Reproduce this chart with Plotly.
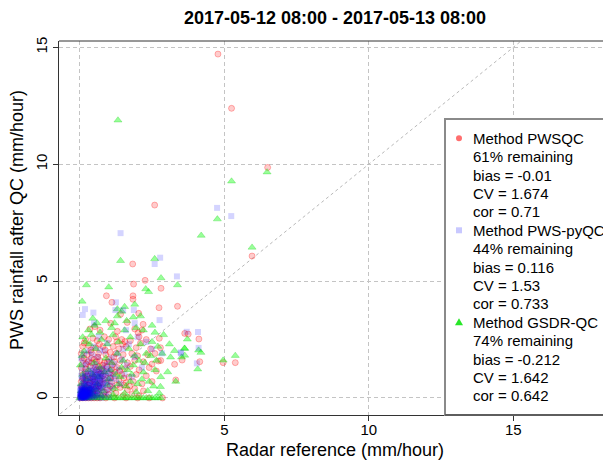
import plotly.graph_objects as go

title_text = "2017-05-12 08:00 - 2017-05-13 08:00"
x_title = "Radar reference (mm/hour)"
y_title = "PWS rainfall after QC (mm/hour)"
tick_vals = [0, 5, 10, 15]
tick_text = ["0", "5", "10", "15"]

# Method PWSQC (red circles): (radar, pws) pairs
pwsqc_xy = [
    (4.78, 14.71), (5.25, 12.39), (6.50, 9.86), (5.96, 6.07), (2.59, 8.25), (1.83, 5.73),
    (2.26, 5.03), (2.81, 4.69), (1.86, 4.87), (0.92, 4.37), (1.84, 4.37), (1.84, 4.22),
    (1.11, 4.09), (2.74, 3.86), (3.38, 3.92), (1.41, 3.58), (1.64, 3.23), (1.07, 3.19),
    (2.04, 3.62), (2.19, 3.15), (0.52, 3.05), (3.63, 2.76), (3.75, 2.73), (4.12, 2.52),
    (1.24, 2.62), (0.85, 2.62), (2.05, 2.62), (2.02, 2.79), (1.56, 2.41), (2.79, 2.15),
    (2.75, 2.55), (4.15, 1.55), (3.28, 1.44), (3.54, 1.62), (4.96, 1.51), (5.38, 1.51),
    (2.80, 1.60), (2.72, 1.58), (3.32, 0.77), (2.86, 0.00),
    (0.35, 2.95), (0.70, 2.90), (1.30, 2.85), (1.90, 2.95), (2.15, 2.90),
    (0.20, 2.50), (0.45, 2.55), (0.60, 2.45), (1.00, 2.50), (1.45, 2.50), (1.75, 2.45), (2.10, 2.35), (2.30, 2.50),
    (0.10, 2.20), (0.30, 2.25), (0.55, 2.15), (0.80, 2.20), (1.15, 2.20), (1.35, 2.10), (1.60, 2.20), (1.95, 2.15), (2.45, 2.10),
    (0.05, 1.90), (0.25, 1.85), (0.40, 1.95), (0.65, 1.90), (0.90, 1.85), (1.05, 1.95), (1.25, 1.90), (1.50, 1.85),
    (1.80, 1.90), (2.00, 1.80), (2.35, 1.85), (2.60, 1.90),
    (0.10, 1.60), (0.30, 1.55), (0.50, 1.65), (0.70, 1.60), (0.85, 1.50), (1.00, 1.65), (1.20, 1.55), (1.40, 1.60),
    (1.65, 1.50), (1.90, 1.60), (2.20, 1.55), (2.50, 1.45),
    (0.05, 1.30), (0.20, 1.25), (0.35, 1.35), (0.55, 1.30), (0.75, 1.25), (0.95, 1.35), (1.10, 1.20), (1.30, 1.30),
    (1.55, 1.25), (1.75, 1.35), (2.05, 1.20), (2.40, 1.30), (2.65, 1.15),
    (0.10, 1.00), (0.25, 0.95), (0.40, 1.05), (0.60, 1.00), (0.80, 0.95), (1.00, 1.05), (1.20, 0.95), (1.45, 1.00),
    (1.70, 0.90), (1.95, 1.00), (2.30, 0.95),
    (0.05, 0.70), (0.20, 0.75), (0.35, 0.65), (0.50, 0.70), (0.70, 0.75), (0.90, 0.65), (1.10, 0.70), (1.35, 0.75),
    (1.60, 0.65), (1.85, 0.70), (2.15, 0.60), (2.50, 0.70),
    (0.10, 0.40), (0.25, 0.45), (0.40, 0.35), (0.55, 0.40), (0.75, 0.45), (0.95, 0.35), (1.15, 0.40), (1.40, 0.45),
    (1.65, 0.35), (1.90, 0.40), (2.20, 0.30),
    (0.05, 0.15), (0.15, 0.20), (0.30, 0.10), (0.45, 0.15), (0.60, 0.20), (0.80, 0.10), (1.00, 0.15), (1.25, 0.20),
    (1.50, 0.10), (1.80, 0.15), (2.05, 0.10),
    (0.02, 0.00), (0.10, 0.00), (0.20, 0.00), (0.30, 0.00), (0.40, 0.00), (0.50, 0.00), (0.60, 0.00), (0.70, 0.00),
    (0.90, 0.00), (1.20, 0.00), (1.60, 0.00), (2.00, 0.00), (2.40, 0.00),
    (0.05, 0.50), (0.15, 0.60), (0.25, 0.30), (0.12, 0.85), (0.30, 0.55), (0.45, 0.80), (0.20, 1.10), (0.65, 0.50),
    (0.08, 0.25), (0.35, 0.20), (0.42, 1.50), (0.62, 1.75), (0.78, 1.40), (0.88, 2.05), (1.18, 1.75), (1.48, 2.30),
    (1.28, 2.40), (0.68, 2.30), (0.38, 2.05), (0.15, 2.35), (0.58, 1.20), (0.72, 1.05), (0.48, 0.90), (0.28, 0.80),
    (0.18, 0.35), (0.32, 0.42), (0.52, 0.55), (0.68, 0.62), (0.85, 0.80), (1.05, 0.85), (1.22, 1.10), (1.38, 1.15),
    (0.22, 1.45), (0.40, 1.70), (0.58, 1.55), (0.95, 1.55), (1.12, 1.40), (0.82, 1.15), (0.65, 1.35), (0.15, 1.70),
    (0.45, 0.25), (0.62, 0.30), (0.85, 0.25), (1.05, 0.50), (1.28, 0.55), (1.52, 0.55), (1.72, 0.50), (1.52, 0.85),
]

# Method PWS-pyQC (blue squares)
pyqc_xy = [
    (4.75, 8.13), (5.24, 7.78), (1.41, 7.05), (2.78, 6.00), (2.59, 5.73), (3.36, 5.20), (1.25, 4.09),
    (0.18, 3.80), (0.10, 3.55), (0.47, 3.65), (1.50, 3.76), (1.23, 3.76), (1.87, 3.76), (0.49, 3.19),
    (2.76, 3.33), (3.70, 2.83), (4.09, 2.82), (0.65, 2.62), (4.11, 2.14), (3.50, 1.91), (4.05, 1.48),
    (2.84, 1.91), (3.49, 1.95), (1.90, 3.20), (1.60, 2.90), (2.30, 2.40), (2.50, 2.10),
    (0.00, 0.00), (0.02, 0.03), (0.04, 0.01), (0.05, 0.06), (0.07, 0.02), (0.08, 0.10), (0.10, 0.04), (0.11, 0.12),
    (0.13, 0.07), (0.15, 0.15), (0.16, 0.03), (0.18, 0.09), (0.20, 0.18), (0.21, 0.05), (0.23, 0.12), (0.25, 0.22),
    (0.03, 0.15), (0.06, 0.20), (0.09, 0.25), (0.12, 0.30), (0.02, 0.28), (0.05, 0.35), (0.14, 0.38), (0.19, 0.27),
    (0.24, 0.33), (0.28, 0.08), (0.30, 0.16), (0.27, 0.40), (0.01, 0.45), (0.08, 0.42), (0.17, 0.48), (0.22, 0.44),
    (0.32, 0.25), (0.35, 0.05), (0.34, 0.35), (0.04, 0.08), (0.06, 0.13), (0.09, 0.06), (0.12, 0.19), (0.14, 0.10),
    (0.17, 0.21), (0.19, 0.14), (0.22, 0.26), (0.26, 0.17), (0.29, 0.30), (0.03, 0.22), (0.07, 0.31), (0.10, 0.36),
    (0.13, 0.02), (0.16, 0.29), (0.01, 0.10), (0.05, 0.00), (0.10, 0.00), (0.15, 0.01), (0.20, 0.00), (0.25, 0.02),
    (0.31, 0.01), (0.11, 0.24), (0.18, 0.35), (0.06, 0.38),
    (0.02, 0.05), (0.04, 0.12), (0.06, 0.04), (0.08, 0.18), (0.10, 0.09), (0.12, 0.14), (0.14, 0.05), (0.16, 0.11),
    (0.18, 0.02), (0.20, 0.08), (0.22, 0.15), (0.24, 0.06), (0.03, 0.32), (0.07, 0.27), (0.11, 0.33), (0.15, 0.24),
    (0.19, 0.31), (0.23, 0.20), (0.27, 0.12), (0.29, 0.22), (0.33, 0.14), (0.36, 0.22), (0.01, 0.18), (0.09, 0.14),
    (0.38, 0.45), (0.42, 0.20), (0.45, 0.62), (0.48, 0.35), (0.50, 0.80), (0.52, 0.10), (0.55, 0.50), (0.58, 0.95),
    (0.60, 0.30), (0.62, 0.70), (0.65, 1.10), (0.68, 0.45), (0.70, 0.85), (0.72, 0.15), (0.75, 0.60), (0.78, 1.25),
    (0.80, 0.40), (0.82, 1.00), (0.85, 0.75), (0.88, 1.40), (0.90, 0.25), (0.92, 0.55), (0.95, 1.15), (0.98, 0.90),
    (1.00, 1.55), (1.02, 0.35), (1.05, 0.70), (1.08, 1.30), (1.10, 1.70), (1.12, 0.50), (1.15, 1.00), (1.20, 1.45),
    (1.25, 0.80), (1.30, 1.90), (1.35, 1.20), (1.40, 0.60), (1.45, 1.65), (1.50, 2.10), (1.55, 1.00), (1.62, 1.40),
    (1.70, 2.30), (1.80, 0.90), (1.90, 1.75), (2.00, 2.60), (2.15, 1.30), (0.30, 0.55), (0.25, 0.70), (0.20, 0.90),
    (0.15, 0.65), (0.10, 0.80), (0.05, 0.95), (0.35, 0.85), (0.40, 1.05), (0.45, 1.30), (0.28, 1.15), (0.18, 1.05),
    (0.08, 1.25), (0.12, 1.50), (0.22, 1.40), (0.32, 1.60), (0.42, 1.85), (0.55, 1.45), (0.62, 1.75), (0.70, 2.05),
    (0.48, 2.20), (0.85, 2.00), (0.95, 2.35), (0.30, 2.00), (0.15, 1.90), (0.05, 1.70), (0.40, 0.00), (0.50, 0.05),
    (0.60, 0.02), (0.75, 0.00), (0.38, 0.12), (0.45, 0.08), (0.55, 0.25), (0.65, 0.18), (0.85, 0.10), (1.00, 0.05),
    (0.33, 0.42), (0.37, 0.30), (0.41, 0.55), (0.44, 0.40), (0.47, 0.68), (0.51, 0.48), (0.54, 0.78), (0.57, 0.60),
    (0.61, 0.88), (0.64, 0.52), (0.67, 0.95), (0.71, 0.70), (0.74, 1.02), (0.77, 0.82), (0.36, 0.72), (0.39, 0.92),
    (0.43, 0.78), (0.46, 1.00), (0.53, 1.10), (0.58, 1.22),
    (0.30, 0.35), (0.35, 0.50), (0.40, 0.38), (0.45, 0.52), (0.50, 0.30), (0.55, 0.68), (0.60, 0.45), (0.65, 0.75),
    (0.70, 0.55), (0.75, 0.90), (0.80, 0.65), (0.25, 0.55), (0.20, 0.62), (0.15, 0.52), (0.10, 0.58), (0.05, 0.50),
    (0.12, 0.72), (0.22, 0.78), (0.32, 0.70), (0.42, 0.88), (0.52, 0.95), (0.62, 1.02), (0.08, 0.88), (0.18, 0.95),
    (0.28, 1.00), (0.38, 1.15), (0.48, 1.20), (0.68, 1.22), (0.78, 1.08), (0.88, 0.95), (0.92, 1.25), (1.02, 1.10),
    (0.36, 0.18), (0.44, 0.28), (0.58, 0.12), (0.66, 0.35), (0.72, 0.42), (0.82, 0.50), (0.95, 0.65), (1.08, 0.85),
]

# Method GSDR-QC (green triangles)
gsdr_xy = [
    (1.32, 11.88), (6.48, 9.66), (5.25, 9.27), (4.76, 7.65), (4.20, 6.95), (5.96, 6.44), (1.41, 5.87),
    (2.59, 5.95), (2.81, 5.13), (0.23, 4.83), (1.00, 4.74), (2.28, 4.66), (2.38, 4.54), (3.38, 4.83),
    (0.08, 4.13), (3.72, 2.51), (3.63, 2.11), (3.63, 1.82), (4.11, 2.04), (4.19, 1.94), (3.52, 1.74),
    (4.96, 1.61), (5.38, 1.81), (4.08, 1.23), (3.28, 2.02), (3.62, 2.12), (3.14, 1.74), (3.04, 1.11),
    (3.32, 0.70), (2.79, 0.48), (1.55, 3.90), (1.90, 4.00), (1.30, 3.80), (2.10, 3.50), (0.45, 3.40),
    (2.50, 3.10), (2.90, 2.70), (3.10, 2.30),
    (0.00, 0.00), (0.10, 0.00), (0.20, 0.00), (0.30, 0.00), (0.40, 0.00), (0.50, 0.00), (0.60, 0.00),
    (0.70, 0.00), (0.80, 0.00), (0.90, 0.00), (1.00, 0.00), (1.10, 0.00), (1.20, 0.00), (1.30, 0.00),
    (1.40, 0.00), (1.50, 0.00), (1.60, 0.00), (1.70, 0.00), (1.80, 0.00), (1.90, 0.00), (2.00, 0.00),
    (2.10, 0.00), (2.20, 0.00), (2.30, 0.00), (2.40, 0.00), (2.50, 0.00), (2.60, 0.00), (2.70, 0.00),
    (2.80, 0.00),
    (0.05, 0.30), (0.20, 0.50), (0.40, 0.20), (0.60, 0.60), (0.80, 0.30), (1.00, 0.80), (1.20, 0.40),
    (1.40, 0.90), (1.60, 0.50), (1.80, 1.00), (2.00, 0.60), (2.20, 1.10), (2.40, 0.70), (2.60, 1.20),
    (2.80, 0.90), (0.10, 1.00), (0.30, 1.20), (0.50, 1.50), (0.70, 1.30), (0.90, 1.70), (1.10, 1.50),
    (1.30, 1.90), (1.50, 1.60), (1.70, 2.10), (1.90, 1.80), (2.10, 2.30), (2.30, 1.90), (2.50, 2.40),
    (0.15, 2.00), (0.35, 2.30), (0.55, 2.10), (0.75, 2.50), (0.95, 2.30), (1.15, 2.70), (1.35, 2.40),
    (1.55, 2.90), (1.75, 2.60), (1.95, 3.00), (0.10, 2.60), (0.30, 2.90), (0.50, 3.10), (0.70, 2.80),
    (0.90, 3.30), (1.10, 3.00), (1.30, 3.50), (0.05, 0.60), (0.25, 0.80), (0.45, 1.00), (0.65, 0.90),
    (0.85, 1.10), (1.05, 1.20), (1.25, 1.00), (1.45, 1.30), (1.65, 1.20), (1.85, 1.40), (2.05, 1.60),
    (2.25, 1.50), (2.45, 1.80), (2.65, 1.60), (0.15, 0.15), (0.35, 0.40), (0.55, 0.35), (0.75, 0.10),
    (0.95, 0.55), (1.15, 0.15), (1.35, 0.60), (1.55, 0.20), (1.75, 0.70), (1.95, 0.25), (2.15, 0.80),
    (2.35, 0.30), (2.55, 0.50), (2.75, 0.20), (0.02, 1.40), (0.08, 1.80), (0.20, 2.40), (0.40, 2.70),
    (0.60, 3.20), (1.20, 3.20), (1.45, 3.70), (1.62, 3.30), (1.85, 3.45), (2.20, 2.90), (2.60, 2.80),
    (2.70, 2.20), (2.85, 1.90), (0.10, 0.05), (0.20, 0.10), (0.30, 0.05), (0.45, 0.12), (0.60, 0.08),
]

legend_lines = [
    "Method PWSQC", "61% remaining", "bias = -0.01", "CV = 1.674", "cor = 0.71",
    "Method PWS-pyQC", "44% remaining", "bias = 0.116", "CV = 1.53", "cor = 0.733",
    "Method GSDR-QC", "74% remaining", "bias = -0.212", "CV = 1.642", "cor = 0.642",
]

FONT = "Liberation Sans, Arial, sans-serif"
OFF = 8  # page body margin of the HTML page
W, H = 611 - OFF, 463 - OFF
L, R, T, B = 59 - OFF, 0, 41 - OFF, 463 - 415
PW, PH = W - L - R, H - T - B


def px_x(p):
    return (p - OFF - L) / PW


def px_y(p):
    return (H - B - (p - OFF)) / PH


fig = go.Figure()

# 1:1 reference line
fig.add_trace(go.Scatter(x=[-1, 20], y=[-1, 20], mode="lines",
                         line=dict(color="#b8b8b8", width=1, dash="3px,3px"),
                         hoverinfo="skip", showlegend=False))

fig.add_trace(go.Scatter(
    x=[p[0] for p in pwsqc_xy], y=[p[1] for p in pwsqc_xy], mode="markers",
    marker=dict(symbol="circle", size=6, color="rgba(255,0,0,0.2)",
                line=dict(color="rgba(255,0,0,0.28)", width=1)),
    showlegend=False))
fig.add_trace(go.Scatter(
    x=[p[0] for p in gsdr_xy], y=[p[1] for p in gsdr_xy], mode="markers",
    marker=dict(symbol="triangle-up", size=7, color="rgba(0,255,0,0.4)",
                line=dict(color="rgba(0,200,0,0.25)", width=1)),
    showlegend=False))
fig.add_trace(go.Scatter(
    x=[p[0] for p in pyqc_xy], y=[p[1] for p in pyqc_xy], mode="markers",
    marker=dict(symbol="square", size=6, color="rgba(0,0,255,0.17)", line=dict(width=0)),
    showlegend=False))

axis_common = dict(
    tickvals=tick_vals, ticktext=tick_text, ticks="outside", ticklen=5, tickcolor="#333",
    showline=True, linecolor="#333", linewidth=1, mirror=False, automargin=False,
    showgrid=True, gridcolor="#c4c4c4", gridwidth=1, griddash="4px,3px",
    zeroline=False, tickfont=dict(family=FONT, size=15, color="black"),
)
fig.update_xaxes(range=[-0.72, 18.38], ticklabelstandoff=-4, **axis_common)
fig.update_yaxes(range=[-0.73, 15.27], tickangle=-90, **axis_common)

shapes = []
# top border of the plot box
shapes.append(dict(type="line", xref="paper", yref="paper", x0=0, x1=1, y0=1, y1=1,
                   line=dict(color="#333", width=1), layer="above"))
# legend box
shapes.append(dict(type="rect", xref="paper", yref="paper",
                   x0=px_x(445), x1=1.05, y0=0, y1=px_y(119),
                   fillcolor="white", line=dict(color="#8a8a8a", width=2), layer="above"))
# redraw bottom axis under legend
shapes.append(dict(type="line", xref="paper", yref="paper", x0=px_x(445), x1=1, y0=0, y1=0,
                   line=dict(color="#333", width=1), layer="above"))
# legend symbols
mx = px_x(459)
shapes.append(dict(type="circle", xref="paper", yref="paper", xsizemode="pixel", ysizemode="pixel",
                   xanchor=mx, yanchor=px_y(138.3), x0=-3, x1=3, y0=-3, y1=3,
                   fillcolor="rgba(255,110,110,1)", line=dict(width=0), layer="above"))
shapes.append(dict(type="rect", xref="paper", yref="paper", xsizemode="pixel", ysizemode="pixel",
                   xanchor=mx, yanchor=px_y(230.3), x0=-3, x1=3, y0=-3, y1=3,
                   fillcolor="rgba(200,200,255,1)", line=dict(width=0), layer="above"))
shapes.append(dict(type="path", xref="paper", yref="paper", xsizemode="pixel", ysizemode="pixel",
                   xanchor=mx, yanchor=px_y(322.3), path="M -4,-3 L 4,-3 L 0,4 Z",
                   fillcolor="rgba(40,230,40,1)", line=dict(width=0), layer="above"))

annotations = []
for i, txt in enumerate(legend_lines):
    annotations.append(dict(text=txt, xref="paper", yref="paper", x=px_x(471), y=px_y(138.3 + 18.4 * i),
                            xanchor="left", yanchor="middle", showarrow=False,
                            font=dict(family=FONT, size=15, color="black")))
annotations.append(dict(text=x_title, xref="paper", yref="paper", x=0.5, y=px_y(450),
                        xanchor="center", yanchor="middle", showarrow=False,
                        font=dict(family=FONT, size=18, color="black")))
annotations.append(dict(text=y_title, xref="paper", yref="paper", x=px_x(17), y=px_y(220),
                        xanchor="center", yanchor="middle", textangle=-90, showarrow=False,
                        font=dict(family=FONT, size=18, color="black")))

fig.update_layout(
    width=W, height=H, margin=dict(l=L, r=R, t=T, b=B, autoexpand=False),
    paper_bgcolor="white", plot_bgcolor="white",
    title=dict(text="<b>" + title_text + "</b>", x=0.5, xref="paper", y=1 - (18 - OFF) / H,
               yanchor="middle", font=dict(family=FONT, size=18, color="black")),
    shapes=shapes, annotations=annotations, showlegend=False,
)

fig.write_html("out.html")
